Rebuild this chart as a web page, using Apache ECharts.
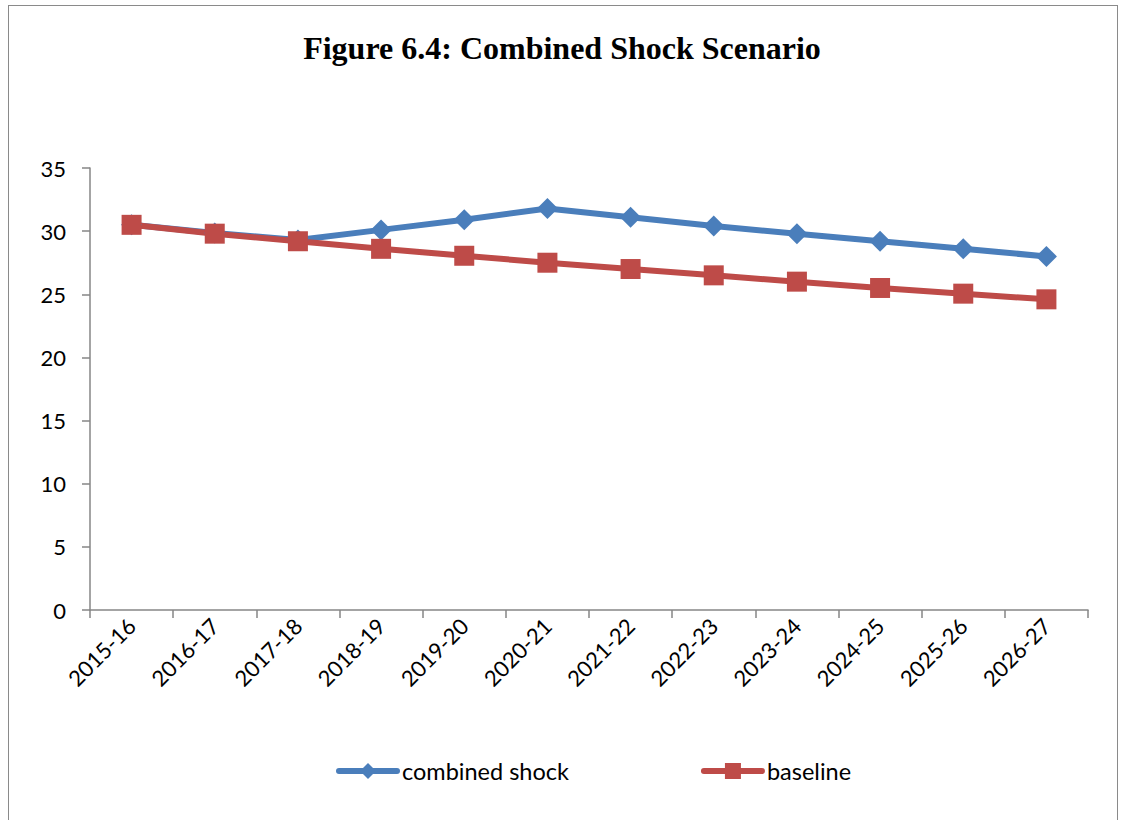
<!DOCTYPE html>
<html>
<head>
<meta charset="utf-8">
<script src="https://cdn.jsdelivr.net/npm/echarts@6/dist/echarts.min.js"></script>
<style>
  html, body { margin: 0; padding: 0; background: #fff; }
  #frame { position: absolute; left: 8px; top: 5px; width: 1110px; height: 830px;
           border: 1px solid #8a8a8a; box-sizing: border-box; }
  #chart { position: absolute; left: 0; top: 0; width: 1124px; height: 820px; }
</style>
</head>
<body>
<div id="frame"></div>
<div id="chart"></div>
<script>
// Combined shock scenario
const years = ['2015-16', '2016-17', '2017-18', '2018-19', '2019-20', '2020-21',
               '2021-22', '2022-23', '2023-24', '2024-25', '2025-26', '2026-27'];
const combinedShock = [30.5, 29.85, 29.3, 30.1, 30.9, 31.8, 31.1, 30.4, 29.8, 29.2, 28.6, 28.0];
const baseline      = [30.5, 29.8, 29.2, 28.6, 28.05, 27.5, 27.0, 26.5, 26.0, 25.5, 25.05, 24.6];

const BLUE = '#4A7EBB';
const RED  = '#BE4B48';
const FONT = 'Lato';

const chart = echarts.init(document.getElementById('chart'), null, { renderer: 'svg' });

chart.setOption({
  animation: false,
  title: {
    text: 'Figure 6.4: Combined Shock Scenario',
    left: 'center',
    top: 27,
    textStyle: { fontFamily: 'Liberation Serif', fontWeight: 'bold', fontSize: 32, color: '#000' },
  },
  grid: { left: 90, right: 36, top: 168, bottom: 210 },
  legend: {
    bottom: 32,
    left: 331,
    itemGap: 132,
    itemWidth: 58,
    itemHeight: 20,
    lineStyle: { width: 6, cap: 'round' },
    textStyle: { fontFamily: FONT, fontSize: 23.5, color: '#000' },
    data: ['combined shock', 'baseline'],
  },
  xAxis: {
    type: 'category',
    data: years,
    boundaryGap: true,
    axisLine: { lineStyle: { color: '#868686', width: 1.5 } },
    axisTick: { show: true, length: 8, lineStyle: { color: '#868686', width: 1.5 } },
    axisLabel: { rotate: 45, fontFamily: FONT, fontSize: 22, color: '#000', margin: 12 },
  },
  yAxis: {
    type: 'value',
    min: 0,
    max: 35,
    interval: 5,
    splitLine: { show: false },
    axisLine: { show: true, lineStyle: { color: '#868686', width: 1.5 } },
    axisTick: { show: true, length: 8, lineStyle: { color: '#868686', width: 1.5 } },
    axisLabel: { fontFamily: FONT, fontSize: 22, color: '#000', margin: 24 },
  },
  series: [
    {
      name: 'combined shock',
      type: 'line',
      data: combinedShock,
      symbol: 'diamond',
      symbolSize: 21,
      lineStyle: { color: BLUE, width: 6 },
      itemStyle: { color: BLUE },
    },
    {
      name: 'baseline',
      type: 'line',
      data: baseline,
      symbol: 'rect',
      symbolSize: 20,
      lineStyle: { color: RED, width: 6 },
      itemStyle: { color: RED },
    },
  ],
});
</script>
</body>
</html>
